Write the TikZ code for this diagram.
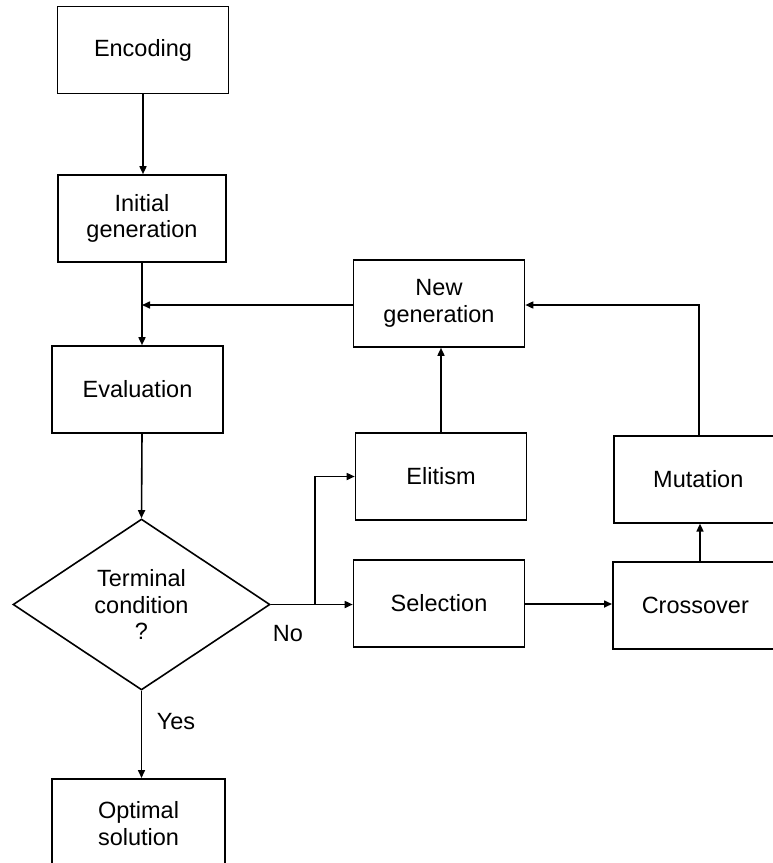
\documentclass[tikz,border=0pt]{standalone}
\usepackage{fontspec}
\setmainfont{Liberation Sans}
\usetikzlibrary{arrows.meta,shapes.geometric}
\begin{document}
\begin{tikzpicture}[x=1pt,y=-1pt,
  box/.style={draw,line width=1.6pt,minimum width=171pt,minimum height=87pt,align=center,inner sep=0pt,font=\fontsize{23.5}{26.5}\selectfont},
  lbl/.style={font=\fontsize{23.5}{26.5}\selectfont,inner sep=0pt},
  conn/.style={line width=1.6pt,-{Triangle[length=8pt,width=7pt]}},
  plain/.style={line width=1.6pt}]
\useasboundingbox (0,0) rectangle (773,863);
\clip (0,0) rectangle (773,863);
\node[box] (enc) at (143,50) {Encoding};
\node[box,minimum width=168pt] (init) at (142,218.5) {Initial\\generation};
\node[box] (eval) at (137.5,389.5) {Evaluation};
\node[draw,line width=1.6pt,diamond,minimum width=257pt,minimum height=171pt,inner sep=0pt,align=center,font=\fontsize{23.5}{26.5}\selectfont] (term) at (141.5,604.5) {Terminal\\condition\\?};
\node[box,minimum width=173pt,minimum height=90pt,anchor=north] (opt) at (138.5,778) {Optimal\\solution};
\node[box] (newg) at (439,303.5) {New\\generation};
\node[box] (elit) at (441,476.5) {Elitism};
\node[box] (sel) at (439,603.5) {Selection};
\node[box,anchor=north west] (mut) at (613,435) {Mutation\hspace*{2pt}};
\node[box,anchor=north west] (cro) at (612,561) {Crossover\hspace*{6pt}};
\coordinate (j1) at (142,305);
\coordinate (j2) at (315,604);
\draw[conn] (enc.south) -- (enc.south|-init.north);
\draw[conn] (init.south) -- (init.south|-eval.north);
\draw[conn] (newg.west|-j1) -- (j1);
\draw[conn] (eval.south-|j1) -- (term.north);
\draw[conn] (term.east) -- (sel.west|-term.east);
\draw[conn] (j2) |- (elit.west);
\draw[conn] (term.south) -- (term.south|-opt.north);
\draw[conn] (elit.north) -- (elit.north|-newg.south);
\draw[conn] (sel.east|-j2) -- (cro.west|-j2);
\draw[conn] (cro.north-|700,0) -- (mut.south-|700,0);
\draw[conn] (mut.north-|699,0) |- (newg.east|-j1);
\node[lbl] (no) at (288,634) {No};
\node[lbl] (yes) at (176,722) {Yes};
\end{tikzpicture}
\end{document}
